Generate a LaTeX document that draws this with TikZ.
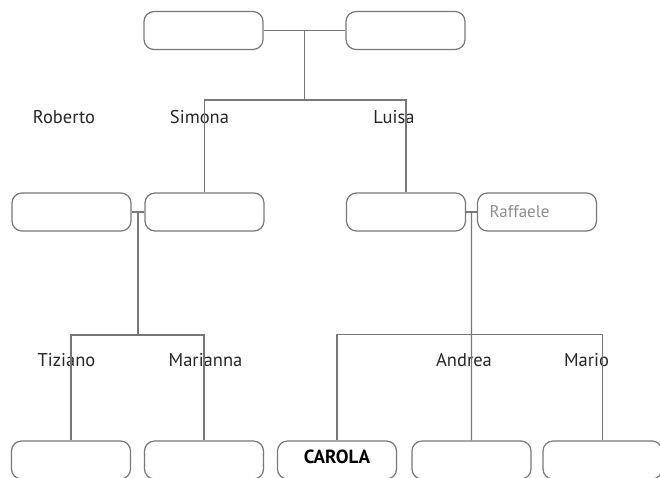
\documentclass[tikz,border=0pt]{standalone}
\usepackage{fontspec}
\setmainfont{PT Sans}
\usepackage{tikz}
\usepackage{xcolor}
\usetikzlibrary{calc}

\definecolor{linegray}{HTML}{777777}
\definecolor{namegray}{HTML}{8C8C8C}

\begin{document}
\begin{tikzpicture}[x=1pt,y=-1pt]
        \tikzstyle{person}=[draw=linegray,line width=1.2pt,rounded corners=10pt,minimum width=119pt,minimum height=38pt,inner sep=0pt]
        \tikzstyle{pname}=[inner sep=0pt,text=black!85,font=\fontsize{18.5}{22}\selectfont]
        \tikzstyle{famline}=[draw=linegray,line width=1.2pt]
            \useasboundingbox (0,0) rectangle (660,477);

            % grandparents
            \node[person] (GP1) at (203.5,30.5) {};
            \node[person] (GP2) at ($(GP1)+(202, 0)$) {};

            % parents and partners
            \node[person] (Rob) at (71.5,212) {};
            \node[person] (Sim) at ($(Rob)+(133, 0)$) {};
            \node[person] (Lui) at ($(Sim)+(201.5, 0)$) {};
            \node[person,text width=95pt,inner xsep=12pt,align=left,text=namegray,font=\fontsize{17}{20}\selectfont] (Raf) at ($(Lui)+(131, 0)$) {Raffaele};

            % children
            \node[person] (Tiz) at (71,460) {};
            \node[person] (Mar) at ($(Tiz)+(133, 0)$) {};
            \node[person,font=\fontsize{19}{22}\selectfont\bfseries] (Car) at ($(Mar)+(133, 0)$) {\raisebox{6pt}{CAROLA}};
            \node[person] (And) at ($(Car)+(134.5, 0)$) {};
            \node[person] (Mao) at ($(And)+(131, 0)$) {};

            % names
            \node[pname] (nRob) at (64,117) {Roberto};
            \node[pname] (nSim) at (199.5,117) {Simona};
            \node[pname] (nLui) at (394,117) {Luisa};
            \node[pname] (nTiz) at (66.5,360) {Tiziano};
            \node[pname] (nMar) at (205.5,360) {Marianna};
            \node[pname] (nAnd) at (464,360) {Andrea};
            \node[pname] (nMao) at (586.5,360) {Mario};

            \coordinate (M1) at ($(GP1.east)!0.5!(GP2.west)$);
            \coordinate (B1) at ($(M1)+(0, 69.5)$);
            \coordinate (M2) at ($(Rob.east)!0.5!(Sim.west)$);
            \coordinate (B2) at ($(M2)+(0, 123)$);
            \coordinate (M3) at ($(Lui.east)!0.5!(Raf.west)$);
            \coordinate (B3) at ($(M3)+(0, 122.5)$);

            \draw[famline] (GP1.east) -- (GP2.west);
            \draw[famline] (M1) -- (B1);
            \draw[famline] (Sim.north) |- (B1) -| (Lui.north);

            \draw[famline] (Rob.east) -- (Sim.west);
            \draw[famline] (M2) -- (B2);
            \draw[famline] (Tiz.north) |- (B2) -| (Mar.north);

            \draw[famline] (Lui.east) -- (Raf.west);
            \draw[famline] (M3) -- (And.north);
            \draw[famline] (Car.north) |- (B3) -| (Mao.north);

        \end{tikzpicture}
\end{document}
